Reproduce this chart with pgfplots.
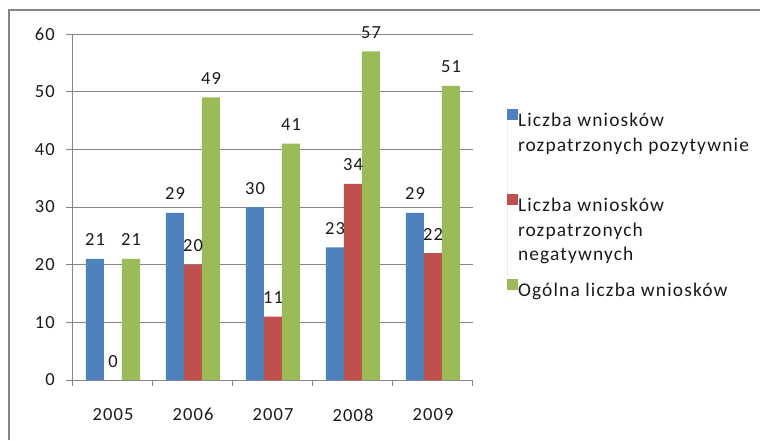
\documentclass[border=0pt]{standalone}
\usepackage{pgfplots}
\pgfplotsset{compat=1.18}
\usepackage{fontspec}
\setmainfont{Carlito}[LetterSpace=6]
\definecolor{exblue}{HTML}{4F81BD}
\definecolor{exred}{HTML}{C0504D}
\definecolor{exgreen}{HTML}{9BBB59}
\definecolor{exgrid}{HTML}{868686}
\definecolor{extext}{HTML}{1A1A1A}
\begin{document}
\fontsize{18.5}{24.5}\selectfont
\begin{tikzpicture}
\path[use as bounding box] (0,0) rectangle (760pt,440pt);
\draw[exgrid, line width=2pt] (8.5pt,0pt) -- (8.5pt,429.5pt) -- (760pt,429.5pt);
\begin{axis}[
  at={(73pt,60pt)}, anchor=south west,
  scale only axis, width=400pt, height=346pt,
  ybar=0pt, bar width=18pt,
  xmin=-0.5, xmax=4.5, ymin=0, ymax=60,
  ytick={0,10,...,60},
  xtick={0,1,2,3,4},
  xticklabels={2005,2006,2007,2008,2009},
  minor xtick={-0.5,0.5,1.5,2.5,3.5,4.5},
  axis lines*=left,
  axis line style={exgrid, line width=1pt},
  ymajorgrids, grid style={exgrid, line width=1pt},
  tick style={exgrid, line width=1pt},
  tick align=outside,
  major tick length=7pt, minor tick length=6pt,
  major x tick style={draw=none},
  /pgf/number format/assume math mode=true,
  ticklabel style={text=extext},
  yticklabel style={xshift=-5pt},
  xticklabel style={yshift=-15pt},
  clip=false,
  nodes near coords,
  every node near coord/.append style={anchor=base, inner sep=0pt, yshift=13pt, text=extext},
  legend cell align=left,
  legend style={at={(1.085,0.788)}, anchor=north west, draw=none, fill=none,
    inner sep=0pt, outer sep=0pt, row sep=0pt, column sep=0pt,
    font=\fontsize{19.4}{24.5}\selectfont,
    /tikz/every even column/.append style={column sep=6pt},
    nodes={inner sep=0pt, text=extext}},
]
\addplot[fill=exblue, draw=none, legend image code/.code={\path (0pt,-71pt) -- (0pt,14pt);\fill[exblue] (0pt,1pt) rectangle (11pt,12pt);}]
  coordinates {(0,21) (1,29) (2,30) (3,23) (4,29)};
\addlegendentry{\parbox[t]{240pt}{Liczba wniosków\\rozpatrzonych pozytywnie}}
\addplot[fill=exred, draw=none, legend image code/.code={\path (0pt,-71pt) -- (0pt,14pt);\fill[exred] (0pt,1pt) rectangle (11pt,12pt);}]
  coordinates {(0,0) (1,20) (2,11) (3,34) (4,22)};
\addlegendentry{\parbox[t]{240pt}{Liczba wniosków\\rozpatrzonych\\negatywnych}}
\addplot[fill=exgreen, draw=none, legend image code/.code={\path (0pt,-5pt) -- (0pt,14pt);\fill[exgreen] (0pt,1pt) rectangle (11pt,12pt);}]
  coordinates {(0,21) (1,49) (2,41) (3,57) (4,51)};
\addlegendentry{Ogólna liczba wniosków}
\end{axis}
\end{tikzpicture}
\end{document}
